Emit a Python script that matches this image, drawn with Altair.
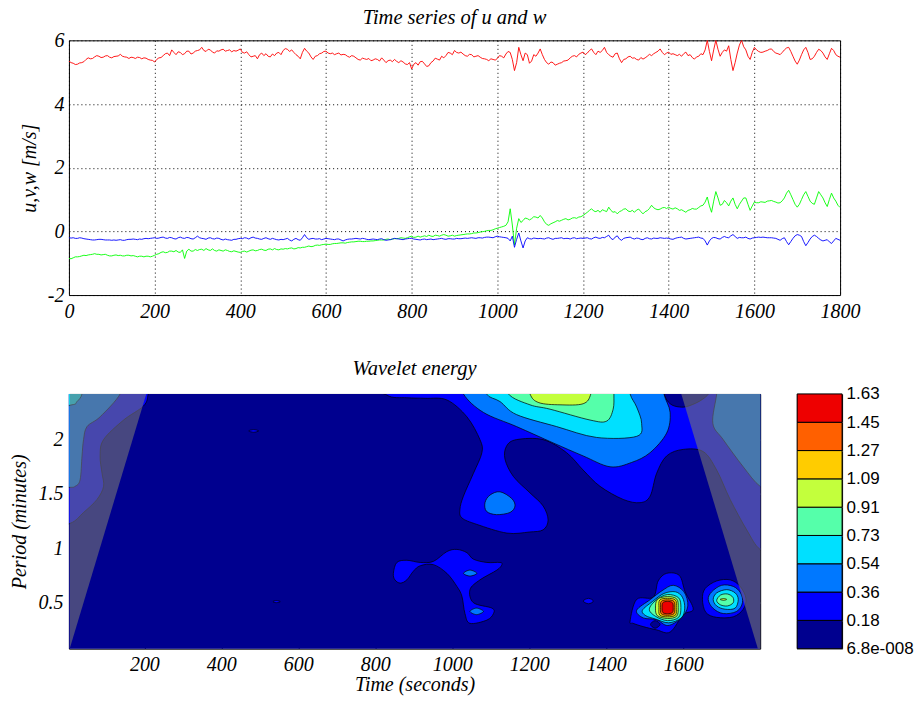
import json
import altair as alt
import pandas as pd

# ---------------- time series ----------------
# values read at t = 0, 10, ..., 1800 s
u_vals = [
    5.35, 5.28, 5.25, 5.30, 5.40, 5.42, 5.48, 5.50, 5.47, 5.52,
    5.45, 5.50, 5.56, 5.48, 5.43, 5.46, 5.47, 5.42, 5.44, 5.38,
    5.32, 5.45, 5.52, 5.60, 5.70, 5.55, 5.62, 5.58, 5.66, 5.60,
    5.68, 5.78, 5.65, 5.70, 5.60, 5.66, 5.72, 5.68, 5.64, 5.66,
    5.73, 5.60, 5.55, 5.50, 5.42, 5.60, 5.58, 5.48, 5.52, 5.62,
    5.68, 5.72, 5.70, 5.55, 5.42, 5.75, 5.60, 5.40, 5.52, 5.60,
    5.66, 5.58, 5.55, 5.60, 5.56, 5.50, 5.52, 5.45, 5.38, 5.42,
    5.43, 5.38, 5.40, 5.45, 5.30, 5.38, 5.40, 5.30, 5.32, 5.24,
    5.10, 5.30, 5.33, 5.26, 5.20, 5.35, 5.41, 5.50, 5.52, 5.60,
    5.68, 5.60, 5.57, 5.50, 5.55, 5.50, 5.47, 5.42, 5.36, 5.40,
    5.43, 5.50, 5.57, 5.62, 5.05, 5.78, 5.36, 5.55, 5.35, 5.50,
    5.73, 5.40, 5.25, 5.30, 5.25, 5.30, 5.36, 5.45, 5.52, 5.56,
    5.63, 5.60, 5.73, 5.55, 5.62, 5.78, 5.55, 5.47, 5.60, 5.30,
    5.42, 5.50, 5.45, 5.38, 5.41, 5.50, 5.52, 5.62, 5.73, 5.55,
    5.63, 5.58, 5.52, 5.50, 5.63, 5.55, 5.41, 5.50, 5.55, 6.00,
    5.36, 6.00, 5.50, 5.70, 5.83, 5.05, 5.60, 6.00, 5.70, 5.40,
    5.78, 5.65, 5.63, 5.68, 5.73, 5.60, 5.55, 5.70, 5.78, 5.50,
    5.25, 5.55, 5.78, 5.40, 5.50, 5.72, 5.60, 5.40, 5.75, 5.55,
    5.47,
]
# values read half-way, at t = 5, 15, ..., 1795 s
u_mid = [
    5.30, 5.24, 5.29, 5.33, 5.45, 5.43, 5.52, 5.46, 5.51, 5.47,
    5.49, 5.51, 5.50, 5.47, 5.47, 5.43, 5.46, 5.45, 5.40, 5.37,
    5.40, 5.46, 5.58, 5.52, 5.62, 5.64, 5.55, 5.66, 5.57, 5.66,
    5.70, 5.68, 5.72, 5.63, 5.67, 5.70, 5.66, 5.70, 5.68, 5.69,
    5.62, 5.64, 5.48, 5.52, 5.55, 5.52, 5.50, 5.57, 5.60, 5.55,
    5.74, 5.65, 5.62, 5.50, 5.62, 5.66, 5.48, 5.50, 5.58, 5.65,
    5.60, 5.60, 5.58, 5.54, 5.55, 5.47, 5.50, 5.40, 5.44, 5.40,
    5.36, 5.42, 5.35, 5.38, 5.36, 5.33, 5.34, 5.36, 5.26, 5.30,
    5.25, 5.22, 5.34, 5.18, 5.30, 5.44, 5.38, 5.45, 5.62, 5.55,
    5.62, 5.63, 5.52, 5.56, 5.48, 5.52, 5.43, 5.40, 5.42, 5.38,
    5.52, 5.45, 5.65, 5.40, 5.30, 5.55, 5.60, 5.28, 5.55, 5.60,
    5.55, 5.30, 5.32, 5.22, 5.28, 5.35, 5.38, 5.50, 5.48, 5.60,
    5.55, 5.68, 5.62, 5.66, 5.68, 5.62, 5.50, 5.58, 5.42, 5.40,
    5.48, 5.44, 5.40, 5.46, 5.45, 5.56, 5.58, 5.66, 5.62, 5.60,
    5.56, 5.55, 5.56, 5.58, 5.52, 5.46, 5.48, 5.58, 5.70, 5.65,
    5.70, 5.72, 5.62, 5.66, 5.40, 5.30, 5.85, 5.80, 5.50, 5.62,
    5.70, 5.62, 5.66, 5.72, 5.65, 5.58, 5.62, 5.76, 5.65, 5.35,
    5.38, 5.70, 5.62, 5.42, 5.62, 5.68, 5.48, 5.58, 5.68, 5.50,
]

v_vals = [
    -0.85, -0.83, -0.80, -0.77, -0.76, -0.73, -0.70, -0.72, -0.73, -0.75,
    -0.77, -0.74, -0.75, -0.77, -0.75, -0.76, -0.80, -0.78, -0.78, -0.80,
    -0.75, -0.70, -0.64, -0.66, -0.62, -0.60, -0.66, -0.85, -0.56, -0.62,
    -0.60, -0.56, -0.54, -0.60, -0.60, -0.58, -0.62, -0.60, -0.64, -0.63,
    -0.66, -0.62, -0.62, -0.58, -0.60, -0.56, -0.60, -0.55, -0.54, -0.58,
    -0.56, -0.55, -0.52, -0.54, -0.52, -0.50, -0.46, -0.47, -0.43, -0.42,
    -0.40, -0.41, -0.38, -0.37, -0.36, -0.35, -0.33, -0.32, -0.31, -0.32,
    -0.31, -0.30, -0.28, -0.27, -0.25, -0.26, -0.23, -0.22, -0.21, -0.20,
    -0.15, -0.18, -0.18, -0.14, -0.12, -0.16, -0.13, -0.12, -0.12, -0.14,
    -0.15, -0.12, -0.10, -0.08, -0.07, -0.05, -0.02, 0.00, 0.03, 0.05,
    0.10, 0.14, 0.19, 0.71, -0.43, 0.40, 0.34, 0.40, 0.40, 0.45,
    0.50, 0.30, 0.19, 0.27, 0.34, 0.35, 0.40, 0.38, 0.43, 0.45,
    0.50, 0.60, 0.71, 0.62, 0.60, 0.65, 0.76, 0.60, 0.55, 0.65,
    0.71, 0.62, 0.60, 0.70, 0.55, 0.65, 0.82, 0.70, 0.70, 0.75,
    0.76, 0.70, 0.71, 0.68, 0.60, 0.68, 0.70, 0.75, 0.82, 1.08,
    0.60, 1.25, 0.82, 0.97, 0.80, 1.05, 0.71, 0.95, 1.05, 0.66,
    0.92, 0.90, 0.92, 0.95, 0.97, 0.92, 0.90, 1.05, 1.29, 1.00,
    0.76, 1.00, 1.25, 0.95, 0.85, 1.25, 1.05, 0.78, 1.20, 0.95,
    0.75,
]
v_mid = [
    -0.86, -0.80, -0.79, -0.75, -0.74, -0.72, -0.72, -0.74, -0.72, -0.77,
    -0.75, -0.76, -0.77, -0.75, -0.77, -0.78, -0.78, -0.80, -0.78, -0.78,
    -0.72, -0.66, -0.67, -0.62, -0.64, -0.65, -0.58, -0.62, -0.62, -0.57,
    -0.57, -0.60, -0.58, -0.55, -0.62, -0.60, -0.58, -0.63, -0.61, -0.65,
    -0.63, -0.65, -0.59, -0.61, -0.57, -0.59, -0.56, -0.58, -0.57, -0.55,
    -0.54, -0.53, -0.55, -0.51, -0.50, -0.48, -0.48, -0.44, -0.44, -0.41,
    -0.41, -0.39, -0.38, -0.36, -0.37, -0.34, -0.33, -0.31, -0.32, -0.31,
    -0.30, -0.29, -0.27, -0.27, -0.24, -0.24, -0.23, -0.20, -0.22, -0.17,
    -0.19, -0.15, -0.16, -0.16, -0.15, -0.12, -0.15, -0.10, -0.15, -0.12,
    -0.13, -0.11, -0.09, -0.08, -0.05, -0.04, -0.01, 0.02, 0.03, 0.08,
    0.12, 0.16, 0.30, 0.20, 0.10, 0.28, 0.42, 0.36, 0.46, 0.42,
    0.42, 0.22, 0.24, 0.30, 0.32, 0.38, 0.36, 0.42, 0.41, 0.46,
    0.55, 0.66, 0.64, 0.66, 0.68, 0.62, 0.66, 0.62, 0.62, 0.70,
    0.64, 0.66, 0.67, 0.62, 0.62, 0.72, 0.74, 0.68, 0.74, 0.72,
    0.72, 0.74, 0.66, 0.64, 0.66, 0.72, 0.70, 0.80, 0.92, 0.80,
    0.95, 1.05, 0.85, 0.90, 0.95, 0.85, 0.85, 1.05, 0.85, 0.80,
    0.90, 0.93, 0.91, 0.96, 0.94, 0.89, 0.96, 1.20, 1.15, 0.85,
    0.85, 1.15, 1.10, 0.88, 1.05, 1.15, 0.90, 1.00, 1.05, 0.82,
]

w_vals = [
    -0.20, -0.20, -0.22, -0.21, -0.24, -0.26, -0.27, -0.25, -0.26, -0.27,
    -0.28, -0.28, -0.26, -0.28, -0.25, -0.24, -0.26, -0.25, -0.22, -0.22,
    -0.20, -0.21, -0.18, -0.22, -0.20, -0.24, -0.18, -0.22, -0.20, -0.24,
    -0.15, -0.22, -0.25, -0.20, -0.24, -0.22, -0.27, -0.26, -0.28, -0.25,
    -0.22, -0.20, -0.24, -0.18, -0.22, -0.25, -0.20, -0.25, -0.24, -0.27,
    -0.26, -0.22, -0.30, -0.22, -0.28, -0.10, -0.25, -0.22, -0.24, -0.26,
    -0.22, -0.24, -0.26, -0.24, -0.30, -0.25, -0.24, -0.22, -0.24, -0.23,
    -0.26, -0.24, -0.26, -0.23, -0.28, -0.26, -0.22, -0.24, -0.26, -0.23,
    -0.22, -0.25, -0.27, -0.24, -0.25, -0.26, -0.24, -0.22, -0.25, -0.23,
    -0.24, -0.23, -0.22, -0.22, -0.20, -0.22, -0.20, -0.19, -0.18, -0.20,
    -0.15, -0.18, -0.20, -0.30, -0.50, -0.05, -0.52, -0.20, -0.24, -0.22,
    -0.22, -0.24, -0.20, -0.25, -0.22, -0.20, -0.22, -0.24, -0.20, -0.22,
    -0.22, -0.20, -0.24, -0.18, -0.22, -0.20, -0.12, -0.26, -0.14, -0.28,
    -0.20, -0.18, -0.24, -0.22, -0.26, -0.20, -0.24, -0.22, -0.20, -0.22,
    -0.22, -0.25, -0.20, -0.18, -0.24, -0.22, -0.20, -0.18, -0.22, -0.43,
    -0.22, -0.20, -0.24, -0.16, -0.20, -0.10, -0.22, -0.20, -0.18, -0.24,
    -0.20, -0.18, -0.18, -0.20, -0.20, -0.22, -0.28, -0.20, -0.42, -0.22,
    -0.10, -0.16, -0.45, -0.24, -0.12, -0.22, -0.30, -0.26, -0.38, -0.22,
    -0.28,
]
w_mid = [
    -0.21, -0.22, -0.20, -0.23, -0.25, -0.27, -0.26, -0.25, -0.27, -0.27,
    -0.27, -0.27, -0.28, -0.26, -0.25, -0.25, -0.24, -0.23, -0.23, -0.21,
    -0.22, -0.19, -0.21, -0.19, -0.23, -0.20, -0.21, -0.19, -0.23, -0.20,
    -0.20, -0.23, -0.21, -0.23, -0.21, -0.25, -0.24, -0.27, -0.25, -0.23,
    -0.23, -0.21, -0.20, -0.21, -0.24, -0.22, -0.23, -0.22, -0.26, -0.25,
    -0.24, -0.27, -0.25, -0.26, -0.20, -0.20, -0.23, -0.24, -0.23, -0.24,
    -0.23, -0.25, -0.24, -0.27, -0.27, -0.24, -0.23, -0.23, -0.22, -0.25,
    -0.25, -0.25, -0.24, -0.26, -0.27, -0.24, -0.23, -0.25, -0.24, -0.22,
    -0.24, -0.26, -0.25, -0.26, -0.24, -0.25, -0.23, -0.24, -0.23, -0.24,
    -0.22, -0.23, -0.21, -0.21, -0.21, -0.20, -0.21, -0.18, -0.19, -0.17,
    -0.17, -0.19, -0.22, -0.15, -0.25, -0.30, -0.30, -0.23, -0.21, -0.23,
    -0.23, -0.21, -0.23, -0.22, -0.21, -0.23, -0.22, -0.21, -0.23, -0.21,
    -0.21, -0.23, -0.20, -0.21, -0.19, -0.16, -0.22, -0.18, -0.24, -0.22,
    -0.19, -0.22, -0.21, -0.25, -0.22, -0.23, -0.21, -0.22, -0.21, -0.21,
    -0.24, -0.22, -0.19, -0.22, -0.23, -0.21, -0.19, -0.21, -0.30, -0.30,
    -0.19, -0.23, -0.19, -0.19, -0.14, -0.16, -0.19, -0.20, -0.22, -0.21,
    -0.19, -0.19, -0.19, -0.20, -0.21, -0.25, -0.23, -0.32, -0.32, -0.14,
    -0.12, -0.32, -0.35, -0.16, -0.16, -0.27, -0.28, -0.33, -0.30, -0.25,
]

series_names = ["u", "v", "w"]
series_colors = ["#FF0000", "#00FF00", "#0000FF"]

ts_time_ticks = [0, 200, 400, 600, 800, 1000, 1200, 1400, 1600, 1800]
ts_value_ticks = [-2, 0, 2, 4, 6]

# ---------------- wavelet energy ----------------
wv_time_domain = [4, 1800]
wv_period_domain = [0.077, 2.42]
wv_time_ticks = [200, 400, 600, 800, 1000, 1200, 1400, 1600]
wv_period_ticks = [0.5, 1, 1.5, 2]

level_colors = ["#00008F", "#0000FF", "#0078FF", "#00E0FF", "#55FFAA",
                "#C3FF3C", "#FFCC00", "#FF6000", "#EE0000"]
level_labels = ["6.8e-008", "0.18", "0.36", "0.54", "0.73", "0.91",
                "1.09", "1.27", "1.45", "1.63"]

# cone of influence (time s, period min)
coi_left_time = [6, 205]
coi_left_period = [0.077, 2.42]
coi_right_time = [1595, 1794, 1800]
coi_right_period = [2.42, 0.077, 0.077]

# filled contour outlines: (level, [(time s, period min), ...])
left_coi_polys = [
    (1, [(-60, 2.6), (215, 2.6), (210, 2.42), (198, 2.31), (146, 2.18), (94, 2.0), (85, 1.85),
         (90, 1.69), (94, 1.57), (77, 1.45), (42, 1.33), (7, 1.23), (-60, 1.2)]),
    (2, [(-60, 2.6), (145, 2.6), (137, 2.42), (85, 2.21), (51, 2.12), (42, 2.0), (38, 1.85),
         (33, 1.63), (20, 1.57), (3, 1.56), (-60, 1.55)]),
    (3, [(-60, 2.6), (45, 2.6), (38, 2.42), (25, 2.35), (12, 2.32), (-60, 2.3)]),
]

upper_polys = [
    (1, [(790, 2.6), (1850, 2.6), (1850, 0.95), (1800, 0.99), (1765, 1.17), (1722, 1.45),
         (1687, 1.72), (1652, 1.89), (1600, 1.91), (1557, 1.85), (1531, 1.69), (1514, 1.48),
         (1488, 1.42), (1444, 1.45), (1384, 1.57), (1340, 1.72), (1297, 1.88), (1236, 2.0),
         (1167, 2.0), (1141, 1.94), (1137, 1.82), (1159, 1.66), (1202, 1.51), (1236, 1.39),
         (1249, 1.26), (1236, 1.17), (1200, 1.15), (1142, 1.14), (1064, 1.22), (1025, 1.28),
         (1020, 1.36), (1029, 1.48), (1055, 1.69), (1077, 1.88), (1072, 2.0), (1038, 2.21),
         (986, 2.365), (930, 2.38), (882, 2.385), (830, 2.41)]),
    (0, [(1540, 2.6), (1550, 2.42), (1566, 2.33), (1590, 2.30), (1615, 2.31), (1650, 2.37),
         (1670, 2.45), (1670, 2.6)]),
    (2, [(1690, 2.6), (1687, 2.42), (1677, 2.15), (1704, 2.0), (1756, 1.75), (1800, 1.57),
         (1850, 1.5), (1850, 2.6)]),
    (2, [(1020, 2.6), (1029, 2.42), (1081, 2.25), (1167, 2.12), (1262, 1.97), (1340, 1.85),
         (1410, 1.75), (1466, 1.79), (1514, 1.88), (1557, 2.06), (1566, 2.25), (1550, 2.42),
         (1545, 2.6)]),
    (3, [(1080, 2.6), (1089, 2.42), (1124, 2.35), (1167, 2.23), (1271, 2.12), (1375, 2.02),
         (1479, 2.03), (1492, 2.15), (1479, 2.3), (1462, 2.42), (1455, 2.6)]),
    (4, [(1140, 2.6), (1146, 2.42), (1202, 2.32), (1254, 2.28), (1358, 2.18), (1401, 2.17),
         (1418, 2.28), (1420, 2.42), (1420, 2.6)]),
    (5, [(1195, 2.6), (1202, 2.42), (1225, 2.34), (1280, 2.32), (1340, 2.33), (1360, 2.42),
         (1365, 2.6)]),
    (2, [(1085, 1.42), (1098, 1.49), (1124, 1.52), (1154, 1.46), (1163, 1.39), (1150, 1.33),
         (1115, 1.31), (1089, 1.34)]),
]

lower_polys = [
    (1, [(847, 0.77), (856, 0.87), (882, 0.89), (917, 0.87), (951, 0.88), (986, 0.97),
         (1012, 0.99), (1038, 0.96), (1055, 0.90), (1090, 0.87), (1124, 0.87), (1129, 0.85),
         (1116, 0.80), (1072, 0.71), (1046, 0.62), (1055, 0.50), (1103, 0.45), (1107, 0.40),
         (1090, 0.34), (1046, 0.31), (1033, 0.40), (1025, 0.56), (1012, 0.65), (986, 0.77),
         (951, 0.85), (917, 0.84), (899, 0.79), (882, 0.71), (865, 0.68), (851, 0.71)]),
    (2, [(1029, 0.77), (1046, 0.80), (1064, 0.77), (1046, 0.745)]),
    (2, [(1046, 0.42), (1063, 0.45), (1081, 0.42), (1063, 0.39)]),
    (1, [(1340, 0.515), (1354, 0.54), (1367, 0.515), (1354, 0.49)]),
    (1, [(471, 2.08), (484, 2.092), (497, 2.08), (484, 2.068)]),
    (1, [(534, 0.51), (543, 0.52), (553, 0.51), (543, 0.50)]),
]

blob_a_polys = [
    (1, [(1462, 0.33), (1479, 0.53), (1522, 0.55), (1535, 0.70), (1557, 0.77), (1590, 0.75),
         (1605, 0.60), (1626, 0.44), (1600, 0.39), (1566, 0.23), (1531, 0.25), (1496, 0.28),
         (1470, 0.31)]),
    (0, [(1515, 0.30), (1527, 0.335), (1540, 0.30), (1527, 0.265)]),
    (2, [(1479, 0.43), (1515, 0.53), (1545, 0.61), (1574, 0.66), (1602, 0.60), (1612, 0.47),
         (1595, 0.36), (1560, 0.29), (1530, 0.345), (1496, 0.36)]),
    (3, [(1494, 0.43), (1520, 0.51), (1550, 0.585), (1580, 0.60), (1598, 0.55), (1604, 0.45),
         (1595, 0.36), (1562, 0.315), (1528, 0.35), (1503, 0.38)]),
    (4, [(1512, 0.44), (1530, 0.525), (1559, 0.575), (1588, 0.545), (1594, 0.455),
         (1588, 0.365), (1559, 0.335), (1528, 0.375)]),
    (5, [(1528, 0.45), (1533, 0.53), (1559, 0.556), (1583, 0.535), (1587, 0.455),
         (1583, 0.375), (1559, 0.355), (1533, 0.38)]),
    (6, [(1537, 0.455), (1539, 0.524), (1559, 0.54), (1580, 0.524), (1582, 0.455),
         (1580, 0.386), (1559, 0.37), (1539, 0.386)]),
    (7, [(1541, 0.455), (1543, 0.512), (1559, 0.526), (1576, 0.512), (1578, 0.455),
         (1576, 0.398), (1559, 0.384), (1543, 0.398)]),
    (8, [(1545, 0.455), (1547, 0.50), (1559, 0.512), (1572, 0.50), (1574, 0.455),
         (1572, 0.41), (1559, 0.398), (1547, 0.41)]),
]

blob_b_polys = [
    (1, [(1650, 0.53), (1657, 0.63), (1687, 0.70), (1722, 0.71), (1748, 0.65), (1763, 0.54),
         (1756, 0.44), (1730, 0.37), (1687, 0.365), (1659, 0.41)]),
    (2, [(1665, 0.53), (1674, 0.60), (1700, 0.66), (1730, 0.65), (1749, 0.59), (1754, 0.50),
         (1739, 0.42), (1704, 0.40), (1677, 0.45)]),
    (3, [(1678, 0.53), (1687, 0.59), (1713, 0.62), (1735, 0.59), (1743, 0.53), (1735, 0.45),
         (1709, 0.44), (1687, 0.47)]),
    (4, [(1687, 0.52), (1697, 0.57), (1715, 0.58), (1729, 0.55), (1730, 0.50), (1715, 0.47),
         (1697, 0.48)]),
    (5, [(1696, 0.53), (1705, 0.538), (1713, 0.53), (1705, 0.522)]),
]

# ---------------- build tables ----------------
def merge(full, mid):
    out = []
    for i, val in enumerate(full):
        out.append(val)
        if i < len(mid):
            out.append(mid[i])
    return out


u_all = merge(u_vals, u_mid)
v_all = merge(v_vals, v_mid)
w_all = merge(w_vals, w_mid)
sample_times = [i * 5 for i in range(len(u_all))]
n = len(sample_times)
ts_df = pd.DataFrame({
    "t": sample_times * 3,
    "val": u_all + v_all + w_all,
    "comp": ["u"] * n + ["v"] * n + ["w"] * n,
})

all_polys = left_coi_polys + upper_polys + lower_polys + blob_a_polys + blob_b_polys
rows = []
for i, (lvl, pts) in enumerate(all_polys):
    for k, (tt, pp) in enumerate(pts):
        rows.append({"pid": f"p{i:02d}", "level": lvl, "t": tt, "p": pp, "k": k})
poly_df = pd.DataFrame(rows)

base_df = pd.DataFrame({"t0": [wv_time_domain[0]], "t1": [wv_time_domain[1]],
                        "p0": [wv_period_domain[0]], "p1": [wv_period_domain[1]], "level": [0]})
coi_l_df = pd.DataFrame({"t": coi_left_time, "p": coi_left_period,
                         "ptop": [wv_period_domain[1]] * len(coi_left_time)})
coi_r_df = pd.DataFrame({"t": coi_right_time, "p": coi_right_period,
                         "ptop": [wv_period_domain[1]] * len(coi_right_time)})
cb_df = pd.DataFrame({"lo": list(range(9)), "hi": list(range(1, 10)), "level": list(range(9)),
                      "a": [0] * 9, "b": [1] * 9})

SERIF = "Liberation Serif"
label_expr = "'' + datum.value"


def serif_title(text, offset):
    return alt.Title(text, font=SERIF, fontSize=20.5, fontStyle="italic", fontWeight="normal",
                     baseline="alphabetic", offset=offset, color="black", frame="group",
                     anchor="middle")


# ---------------- top panel ----------------
top = alt.Chart(ts_df, title=serif_title("Time series of u and w", -14)).mark_line(
    strokeWidth=0.9, clip=True
).encode(
    x=alt.X("t:Q", scale=alt.Scale(domain=[0, 1800], nice=False, zero=False),
            axis=alt.Axis(values=ts_time_ticks, labelExpr=label_expr, title=None, grid=True,
                          gridDash=[1, 3], gridColor="black", gridOpacity=1, ticks=False,
                          domain=False, labelPadding=6, labelFlush=False)),
    y=alt.Y("val:Q", scale=alt.Scale(domain=[-2, 6], nice=False, zero=False),
            axis=alt.Axis(values=ts_value_ticks, labelExpr=label_expr, title="u,v,w [m/s]",
                          grid=True, gridDash=[1, 3], gridColor="black", gridOpacity=1,
                          ticks=False, domain=False, labelPadding=5, titlePadding=8)),
    color=alt.Color("comp:N", scale=alt.Scale(domain=series_names, range=series_colors), legend=None),
    detail="comp:N",
).properties(width=772, height=255)

# ---------------- bottom panel ----------------
xs = alt.Scale(domain=wv_time_domain, nice=False, zero=False)
ys = alt.Scale(domain=wv_period_domain, nice=False, zero=False)
fill_scale = alt.Scale(domain=list(range(9)), range=level_colors)

base = alt.Chart(base_df).mark_rect().encode(
    x=alt.X("t0:Q", scale=xs,
            axis=alt.Axis(values=wv_time_ticks, labelExpr=label_expr, title="Time (seconds)",
                          offset=-5, tickSize=5, tickColor="black", domain=False,
                          labelPadding=6, titlePadding=0, labelFlush=False)),
    x2="t1:Q",
    y=alt.Y("p0:Q", scale=ys,
            axis=alt.Axis(values=wv_period_ticks, labelExpr=label_expr, title="Period (minutes)",
                          offset=-5, tickSize=5, tickColor="black", domain=False,
                          labelPadding=6, titlePadding=8)),
    y2="p1:Q",
    fill=alt.Fill("level:O", scale=fill_scale, legend=None),
)

contours = alt.Chart(poly_df).mark_line(
    interpolate="cardinal-closed", stroke="black", strokeWidth=0.7, clip=True
).encode(
    x=alt.X("t:Q", scale=xs, axis=None),
    y=alt.Y("p:Q", scale=ys, axis=None),
    fill=alt.Fill("level:O", scale=fill_scale, legend=None),
    detail="pid:N",
    order="k:Q",
)

coi_left = alt.Chart(coi_l_df).mark_area(color="#777777", opacity=0.6, clip=True).encode(
    x=alt.X("t:Q", scale=xs, axis=None), y=alt.Y("p:Q", scale=ys, axis=None), y2="ptop:Q")
coi_right = alt.Chart(coi_r_df).mark_area(color="#777777", opacity=0.6, clip=True).encode(
    x=alt.X("t:Q", scale=xs,
            axis=alt.Axis(orient="top", values=wv_time_ticks, labels=False, title=None,
                          offset=-5, tickSize=5, tickColor="black", domain=False)),
    y=alt.Y("p:Q", scale=ys,
            axis=alt.Axis(orient="right", values=wv_period_ticks, labels=False, title=None,
                          offset=-5, tickSize=5, tickColor="black", domain=False)),
    y2="ptop:Q")

bottom = alt.layer(base, contours, coi_left, coi_right).resolve_axis(
    x="independent", y="independent"
).properties(
    width=692, height=255, title=serif_title("Wavelet energy", -2),
)

cbar = alt.Chart(cb_df).mark_rect(stroke="black", strokeWidth=1).encode(
    x=alt.X("a:Q", scale=alt.Scale(domain=[0, 1]), axis=None),
    x2="b:Q",
    y=alt.Y("lo:Q", scale=alt.Scale(domain=[0, 9], nice=False),
            axis=alt.Axis(orient="right", values=list(range(10)),
                          labelExpr=json.dumps(level_labels) + "[datum.value]",
                          labelFont="Liberation Sans", labelFontStyle="normal", labelFontSize=17,
                          ticks=False, domain=False, labelPadding=4, title=None,
                          labelBaseline="middle")),
    y2="hi:Q",
    fill=alt.Fill("level:O", scale=fill_scale, legend=None),
).properties(width=45, height=255)

chart = alt.vconcat(
    top,
    alt.hconcat(bottom, cbar, spacing=35),
    spacing=36,
).properties(
    padding={"left": 9, "top": 7, "right": 5, "bottom": 5},
    background="white",
).configure_view(
    stroke="black", strokeWidth=1,
).configure_axis(
    labelFont=SERIF, labelFontStyle="italic", labelFontSize=20, labelColor="black",
    titleFont=SERIF, titleFontStyle="italic", titleFontSize=20, titleFontWeight="normal",
    titleColor="black",
)

chart.save("out.html", embed_options={"renderer": "svg", "actions": False})
